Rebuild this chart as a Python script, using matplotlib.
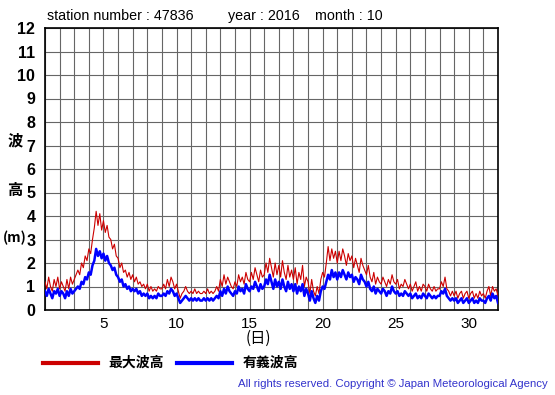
import numpy as np
import matplotlib
matplotlib.use("Agg")
import matplotlib.pyplot as plt
from matplotlib.lines import Line2D

station = "47836"
year = "2016"
month = "10"

# significant wave height (m), 8 samples per day, days 1..31 plus final point
sig_wave = [
    0.8,0.6,0.9,0.7,0.5,0.8,0.7,0.9,
    0.6,0.8,0.7,0.5,0.8,0.6,0.9,0.7,
    0.8,0.9,1.0,0.9,1.2,1.1,1.4,1.3,
    1.6,1.5,1.9,2.1,2.6,2.3,2.5,2.2,
    2.4,2.1,2.3,2.0,1.9,1.7,1.8,1.5,
    1.4,1.2,1.3,1.0,1.1,0.9,1.0,0.8,
    0.9,0.8,0.9,0.7,0.8,0.6,0.7,0.6,
    0.7,0.5,0.6,0.5,0.6,0.5,0.7,0.6,
    0.6,0.7,0.6,0.8,0.7,0.9,0.8,0.6,
    0.7,0.5,0.3,0.4,0.5,0.6,0.5,0.4,
    0.5,0.4,0.5,0.4,0.5,0.4,0.4,0.5,
    0.4,0.5,0.4,0.5,0.4,0.5,0.6,0.5,
    0.8,0.6,0.9,0.7,1.0,0.8,0.7,0.6,
    0.8,0.7,1.0,0.8,0.9,0.7,1.1,0.9,
    0.8,1.0,0.9,1.2,1.0,0.8,1.1,0.9,
    1.0,1.3,1.1,1.5,1.2,0.9,1.3,1.0,
    1.2,0.9,1.3,1.0,0.8,1.2,0.9,1.1,
    0.8,1.1,0.7,1.0,0.8,1.1,0.6,0.9,
    0.7,0.4,0.8,0.5,0.3,0.6,0.4,0.8,
    1.0,0.9,1.2,1.5,1.3,1.7,1.4,1.6,
    1.3,1.6,1.4,1.7,1.5,1.3,1.6,1.4,
    1.5,1.2,1.4,1.3,1.1,1.5,1.3,1.2,
    1.0,1.2,0.9,0.8,1.0,0.7,0.9,0.8,
    0.7,0.9,0.8,0.6,0.8,0.7,1.0,0.8,
    0.7,0.8,0.6,0.7,0.6,0.8,0.7,0.6,
    0.7,0.5,0.6,0.7,0.5,0.6,0.5,0.7,
    0.6,0.5,0.7,0.6,0.5,0.6,0.5,0.6,
    0.6,0.8,0.7,0.9,0.6,0.5,0.4,0.5,
    0.4,0.5,0.3,0.4,0.5,0.3,0.4,0.5,
    0.3,0.4,0.5,0.3,0.4,0.3,0.5,0.4,
    0.4,0.3,0.5,0.6,0.4,0.7,0.5,0.6,
    0.3,
]

# maximum wave height (m)
max_wave = [
    1.2,0.9,1.4,1.0,0.8,1.3,1.0,1.4,
    0.9,1.2,1.0,0.8,1.3,0.9,1.4,1.1,
    1.3,1.5,1.7,1.5,2.0,1.8,2.3,2.1,
    2.6,2.4,3.0,3.5,4.2,3.6,4.1,3.4,
    3.8,3.3,3.6,3.1,3.0,2.6,2.8,2.3,
    2.2,1.8,2.0,1.6,1.7,1.4,1.6,1.3,
    1.5,1.2,1.4,1.1,1.2,1.0,1.1,0.9,
    1.1,0.8,1.0,0.8,0.9,0.8,1.0,0.9,
    0.9,1.1,0.9,1.3,1.0,1.4,1.2,0.9,
    1.1,0.8,0.5,0.7,0.8,1.0,0.8,0.7,
    0.8,0.7,0.9,0.7,0.8,0.7,0.7,0.8,
    0.7,0.9,0.7,0.8,0.7,0.8,1.0,0.8,
    1.3,1.0,1.5,1.1,1.4,1.2,1.0,0.9,
    1.2,1.0,1.5,1.2,1.4,1.1,1.6,1.3,
    1.2,1.6,1.3,1.8,1.5,1.2,1.7,1.4,
    1.5,2.0,1.6,2.2,1.8,1.4,2.0,1.5,
    1.9,1.4,2.1,1.6,1.3,1.9,1.4,1.7,
    1.3,1.8,1.1,1.6,1.3,1.9,1.0,1.4,
    1.2,0.7,1.3,0.8,0.6,1.0,0.7,1.3,
    1.6,1.4,2.0,2.7,2.1,2.6,2.2,2.5,
    2.0,2.5,2.1,2.6,2.3,1.9,2.4,2.1,
    2.3,1.8,2.2,1.9,1.6,2.2,1.9,1.7,
    1.5,1.9,1.4,1.2,1.6,1.1,1.4,1.2,
    1.1,1.4,1.2,1.0,1.3,1.1,1.5,1.2,
    1.1,1.3,0.9,1.1,1.0,1.3,1.1,0.9,
    1.1,0.8,1.0,1.2,0.8,1.0,0.8,1.1,
    1.0,0.8,1.1,0.9,0.8,1.0,0.8,0.9,
    0.9,1.2,1.0,1.4,0.9,0.8,0.6,0.8,
    0.6,0.8,0.5,0.7,0.8,0.5,0.7,0.8,
    0.5,0.7,0.8,0.5,0.7,0.5,0.8,0.6,
    0.7,0.5,0.8,1.0,0.6,1.0,0.8,0.9,
    0.6,
]

x_ticks = [5, 10, 15, 20, 25, 30]
y_ticks = list(range(0, 13))

cjk = ["Noto Sans CJK JP", "DejaVu Sans"]
latin = ["Liberation Sans", "DejaVu Sans"]

W, H = 555, 395
fig = plt.figure(figsize=(W / 100, H / 100), dpi=100)
ax = fig.add_axes([45 / W, 1 - 310 / H, (498 - 45) / W, (310 - 28) / H])

t = np.linspace(1, 32, len(sig_wave))
ax.plot(t, max_wave, color="#cc0000", lw=0.8, zorder=3)
ax.plot(t, sig_wave, color="#0000ff", lw=1.8, zorder=4)

ax.set_xlim(1, 32)
ax.set_ylim(0, 12)
ax.set_xticks(range(1, 33), minor=True)
ax.set_xticks(x_ticks)
ax.set_yticks(y_ticks)
ax.grid(True, which="both", axis="x", color="#666666", lw=0.8)
ax.grid(True, which="major", axis="y", color="#666666", lw=0.8)
ax.set_axisbelow(True)
ax.tick_params(which="both", length=0)
ax.tick_params(axis="x", pad=5)
ax.tick_params(axis="y", pad=7)
ax.set_xticklabels([str(v) for v in x_ticks], family=latin, fontsize=11)
ax.set_yticklabels([str(v) for v in y_ticks], family=latin, fontsize=11.5, fontweight="bold")
for s in ax.spines.values():
    s.set_color("black")
    s.set_linewidth(1.2)

# title
fig.text(47 / W, 1 - 16 / H, f"station number : {station}", family=latin, fontsize=10.3, va="center", ha="left")
fig.text(228 / W, 1 - 16 / H, f"year : {year}", family=latin, fontsize=10.3, va="center", ha="left")
fig.text(315 / W, 1 - 16 / H, f"month : {month}", family=latin, fontsize=10.3, va="center", ha="left")

# y label
fig.text(15 / W, 1 - 140 / H, "波", family=cjk, fontsize=11, fontweight="bold", ha="center", va="center")
fig.text(15 / W, 1 - 190 / H, "高", family=cjk, fontsize=11, fontweight="bold", ha="center", va="center")
fig.text(15 / W, 1 - 238 / H, "(m)", family=cjk, fontsize=10, fontweight="bold", ha="center", va="center")
# x label
fig.text(258 / W, 1 - 338 / H, "(日)", family=cjk, fontsize=11, ha="center", va="center")

# legend
fig.add_artist(Line2D([43 / W, 98 / W], [1 - 363 / H] * 2, color="#cc0000", lw=3))
fig.text(108 / W, 1 - 363 / H, "最大波高", family=cjk, fontsize=10, fontweight="bold", va="center", ha="left")
fig.add_artist(Line2D([177 / W, 232 / W], [1 - 363 / H] * 2, color="#0000ff", lw=3))
fig.text(243 / W, 1 - 363 / H, "有義波高", family=cjk, fontsize=10, fontweight="bold", va="center", ha="left")

fig.text(548 / W, 1 - 384 / H, "All rights reserved. Copyright \u00a9 Japan Meteorological Agency",
         family=latin, fontsize=8.2, color="#3333cc", ha="right", va="center")

fig.savefig("out.png", dpi=100)
